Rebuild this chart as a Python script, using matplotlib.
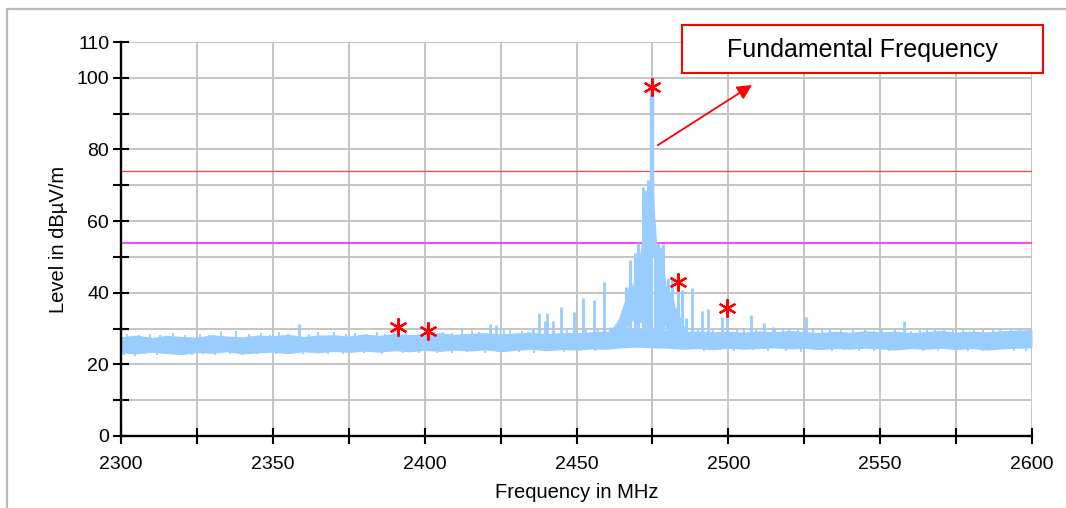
import numpy as np
import matplotlib
matplotlib.use("Agg")
import matplotlib.pyplot as plt
from matplotlib.patches import Rectangle

plt.rcParams['font.family'] = ['Liberation Sans', 'DejaVu Sans']

# noise floor envelope, every 5 MHz from 2300 to 2600
band_freq = np.arange(2300, 2601, 5)
band_low = [23.2, 22.9, 23.4, 23.0, 22.7, 23.3, 23.1, 23.5, 22.9, 23.2,
            23.4, 23.0, 23.5, 23.2, 23.6, 23.3, 23.7, 23.4, 23.8, 23.5,
            23.9, 23.6, 24.0, 23.7, 24.1, 23.5, 23.9, 24.2, 23.8, 24.1,
            24.0, 24.3, 24.2, 24.6, 24.8, 24.6, 24.5, 24.2, 24.4, 24.1,
            24.5, 24.2, 24.4, 24.6, 24.3, 24.5, 24.1, 24.4, 24.2, 24.5,
            24.3, 24.0, 24.4, 24.2, 24.5, 24.1, 24.4, 24.0, 24.3, 24.5, 24.6]
band_high = [27.7, 28.2, 27.5, 28.1, 27.8, 27.6, 28.3, 27.9, 27.7, 28.2,
             28.0, 28.4, 27.8, 28.2, 28.3, 27.9, 28.5, 28.1, 28.6, 28.3,
             28.5, 28.8, 28.4, 28.7, 28.9, 28.5, 28.8, 29.0, 28.6, 28.9,
             28.8, 29.1, 29.3, 29.6, 29.9, 29.7, 29.5, 29.2, 29.4, 29.1,
             29.3, 29.0, 29.4, 29.1, 29.5, 29.2, 28.9, 29.3, 29.0, 29.4,
             29.1, 29.3, 28.9, 29.2, 29.5, 29.0, 29.3, 29.1, 29.4, 29.6, 29.7]

# small ripples on the band edges
ripple_up_freq = [2302, 2306, 2309.5, 2313, 2317, 2321, 2326, 2329, 2333, 2338,
                  2342, 2346, 2349, 2352, 2355, 2362, 2365, 2370, 2374, 2377,
                  2381, 2384.2, 2387, 2390, 2394, 2397.8, 2403, 2406, 2409, 2412.2,
                  2415.5, 2418, 2426, 2428, 2432, 2434, 2447, 2453, 2457,
                  2490, 2495, 2503, 2505, 2509, 2515.4, 2518, 2520, 2523, 2528,
                  2531, 2533.5, 2537, 2541, 2545, 2548, 2550.5, 2555, 2560, 2563,
                  2565.3, 2568, 2571, 2574, 2577.3, 2581, 2584, 2587, 2589.5, 2593,
                  2596, 2599]
ripple_up_lvl = [28.4, 28.2, 28.6, 28.1, 28.8, 28.3, 28.5, 28.2, 29.4, 29.3,
                 28.4, 28.7, 28.3, 28.9, 28.5, 28.4, 28.9, 29.0, 28.6, 28.8,
                 28.4, 28.9, 28.6, 29.2, 28.7, 28.6, 28.9, 29.1, 28.8, 30.0,
                 29.5, 29.0, 29.6, 29.5, 29.3, 29.0, 29.8, 29.5, 29.7,
                 29.6, 29.9, 29.5, 30.1, 29.7, 30.0, 29.6, 29.8, 29.5, 29.9,
                 29.6, 29.8, 29.5, 29.9, 29.6, 29.4, 29.6, 29.8, 29.4, 29.7,
                 29.6, 29.9, 29.8, 29.5, 29.9, 29.6, 29.8, 29.5, 30.0, 29.7,
                 29.9, 30.1]
ripple_dn_freq = [2301, 2304.6, 2308, 2312, 2316, 2320.4, 2323.4, 2327, 2331, 2336,
                  2340, 2344.8, 2351, 2356, 2360, 2364, 2368.2, 2373, 2380, 2386,
                  2393, 2398, 2404, 2409, 2414, 2420, 2426, 2431, 2436, 2441, 2446,
                  2451, 2456, 2492, 2497.2, 2502, 2508, 2513, 2519, 2524, 2529,
                  2534, 2538, 2543, 2548, 2553, 2558, 2564, 2569, 2575, 2579,
                  2583.9, 2588, 2594, 2598]
ripple_dn_lvl = [22.6, 22.3, 22.8, 22.5, 22.9, 22.5, 22.6, 22.8, 22.7, 22.9,
                 22.6, 22.8, 22.9, 23.0, 22.8, 23.1, 22.9, 23.0, 23.2, 23.0,
                 23.3, 23.1, 23.3, 23.2, 23.4, 23.2, 23.4, 23.5, 23.3, 23.6, 23.4,
                 23.7, 23.6, 23.8, 23.9, 23.7, 23.9, 23.6, 23.8, 23.5, 23.9,
                 23.7, 23.9, 23.6, 23.8, 23.7, 23.9, 23.6, 23.8, 23.9, 23.6,
                 23.7, 23.9, 23.8, 23.6]

# isolated spurious spikes
spike_freq = [2358.6, 2421.5, 2423.5, 2435.7, 2437.6, 2439.6, 2440.3, 2442.3, 2444.9,
              2449.2, 2452.1, 2455.8, 2459.0, 2461.0, 2487.9, 2491.3, 2493.4, 2497.8,
              2499.6, 2507.6, 2511.6, 2514.7, 2525.7, 2557.8]
spike_lvl = [31.3, 31.3, 31.0, 30.0, 34.3, 32.0, 34.3, 32.0, 36.0,
             34.6, 38.5, 38.0, 43.0, 30.5, 41.3, 35.0, 35.5, 33.3,
             35.5, 33.8, 31.6, 30.5, 33.2, 32.2]

# carrier region
peak_freq = [2461, 2462.5, 2464, 2465.5, 2466.5, 2467.5, 2468.5, 2469.5, 2470.5, 2471.5,
             2472.5, 2473.5, 2474.3, 2475.0, 2475.7, 2476.5, 2477.5, 2478.5, 2479.5,
             2480.5, 2481.5, 2482.5, 2483.5, 2484.5, 2486]
peak_low = [25.0, 25.3, 26.0, 27.0, 29.0, 32.5, 32.0, 33.0, 32.0, 31.5,
            29.5, 38.0, 48.0, 56.0, 52.0, 44.0, 38.0, 33.0, 29.5,
            28.0, 27.0, 26.0, 25.5, 25.2, 25.0]
peak_high = [29.5, 31.0, 33.0, 37.0, 39.0, 44.0, 42.0, 47.0, 49.0, 55.0,
             62.0, 68.0, 72.0, 74.0, 62.0, 53.0, 48.0, 49.0, 42.0,
             40.0, 40.0, 36.0, 35.0, 32.0, 29.8]
peak_spike_freq = [2466.2, 2467.6, 2469.3, 2470.4, 2472.0, 2472.9, 2473.6, 2474.4,
                   2475.8, 2476.9, 2477.8, 2478.6, 2480.2, 2481.3, 2483.4, 2484.6, 2486.0]
peak_spike_lvl = [41.6, 49.0, 51.0, 54.0, 69.5, 68.7, 71.5, 72.5,
                  54.0, 54.0, 52.9, 53.5, 44.0, 44.5, 43.0, 40.8, 33.0]
carrier_freq = 2475.0
carrier_lvl = 97.4

# limit lines
limit_peak = 74
limit_avg = 54

# marked maxima
mark_freq = [2391.2, 2401.1, 2474.9, 2483.4, 2499.6]
mark_lvl = [30.4, 29.3, 97.4, 43.0, 35.7]

trace_col = '#99ccff'

fig = plt.figure(figsize=(10.66, 5.08), dpi=100)
ax = fig.add_axes([121 / 1066, 1 - 436 / 508, 911 / 1066, 394 / 508])

ax.axhline(limit_peak, color='#ff4040', lw=0.9, zorder=2)
ax.axhline(limit_avg, color='#ff40ff', lw=1.4, zorder=2)

ax.fill_between(band_freq, band_low, band_high, color=trace_col, lw=0, zorder=3)
ax.vlines(ripple_up_freq, 26, ripple_up_lvl, color=trace_col, lw=1.3, zorder=3)
ax.vlines(ripple_dn_freq, ripple_dn_lvl, 26, color=trace_col, lw=1.3, zorder=3)
ax.vlines(spike_freq, 26, spike_lvl, color=trace_col, lw=2, zorder=3)
ax.fill_between(peak_freq, peak_low, peak_high, color=trace_col, lw=0, zorder=3)
ax.vlines(peak_spike_freq, 27, peak_spike_lvl, color=trace_col, lw=2.2, zorder=3)
ax.vlines([carrier_freq], 50, [carrier_lvl], color=trace_col, lw=3.2, zorder=3)

ax.plot(mark_freq, mark_lvl, ls='none', marker=(6, 2, 0), ms=13, mew=1.6,
        color='red', zorder=5)

ax.annotate('', xy=(2507.8, 98.0), xytext=(2476.8, 81.2),
            arrowprops=dict(arrowstyle='-|>', color='red', lw=1.3,
                            mutation_scale=22, shrinkA=0, shrinkB=0), zorder=6)

ax.set_xlim(2300, 2600)
ax.set_ylim(0, 110)
ax.set_xticks(np.arange(2300, 2601, 25))
ax.set_xticklabels([str(v) if v % 50 == 0 else '' for v in range(2300, 2601, 25)])
ax.set_yticks(np.arange(0, 111, 10))
ax.set_yticklabels(['0', '', '20', '', '40', '', '60', '', '80', '', '100', '110'])
ax.grid(True, color='#c4c4c4', lw=1.4, zorder=0)
ax.set_axisbelow(True)
for s in ['top', 'right']:
    ax.spines[s].set_visible(False)
for s in ['left', 'bottom']:
    ax.spines[s].set_linewidth(1.7)
    ax.spines[s].set_zorder(4)
ax.tick_params(direction='inout', length=11, width=1.5, labelsize=14, pad=3)
ax.tick_params(axis='x', pad=9)

ax.set_xlabel('Frequency in MHz', fontsize=14.5, labelpad=7)
ax.set_ylabel('Level in dB\u00b5V/m', fontsize=14.5, labelpad=6)

# legend box for the carrier
fig.add_artist(Rectangle((682 / 1066, 1 - 73 / 508), 361 / 1066, 48 / 508,
                         transform=fig.transFigure, fill=True, fc='white',
                         ec='red', lw=1.5))
fig.text(862 / 1066, 1 - 50 / 508, 'Fundamental Frequency', fontsize=18,
         ha='center', va='center')

# outer frame
fig.add_artist(Rectangle((7 / 1066, -0.5), 2, 1.5 - 9 / 508,
                         transform=fig.transFigure, fill=False,
                         ec='#b8b8b8', lw=1.6))

fig.savefig('out.png', dpi=100)
